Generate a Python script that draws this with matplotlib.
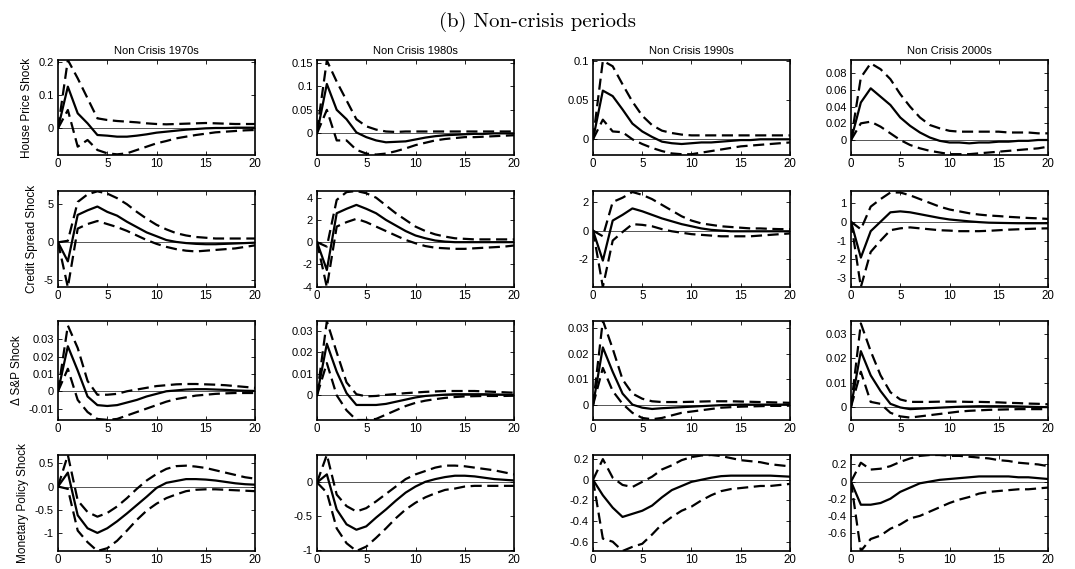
import matplotlib
matplotlib.use("Agg")
import matplotlib.pyplot as plt
import numpy as np

horizon = list(range(21))
col_titles = ["Non Crisis 1970s", "Non Crisis 1980s", "Non Crisis 1990s", "Non Crisis 2000s"]
row_labels = ["House Price Shock", "Credit Spread Shock", "\u0394 S&P Shock", "Monetary Policy Shock"]

# ---- House price shock ----
hp70_mid = [0, 0.125, 0.045, 0.015, -0.02, -0.022, -0.025, -0.025, -0.022, -0.018, -0.013, -0.01, -0.007, -0.004, -0.002, 0, 0.001, 0.001, 0.002, 0.002, 0.002]
hp70_hi = [0, 0.205, 0.15, 0.09, 0.03, 0.025, 0.022, 0.02, 0.018, 0.015, 0.013, 0.012, 0.013, 0.014, 0.015, 0.016, 0.015, 0.014, 0.013, 0.013, 0.013]
hp70_lo = [0, 0.055, -0.055, -0.035, -0.065, -0.075, -0.078, -0.075, -0.065, -0.055, -0.045, -0.038, -0.03, -0.025, -0.02, -0.016, -0.012, -0.01, -0.008, -0.006, -0.005]
hp80_mid = [0, 0.105, 0.05, 0.03, 0.002, -0.008, -0.015, -0.019, -0.018, -0.017, -0.013, -0.009, -0.006, -0.004, -0.003, -0.002, -0.001, -0.001, 0, 0, 0]
hp80_hi = [0.005, 0.155, 0.11, 0.07, 0.03, 0.015, 0.008, 0.004, 0.003, 0.004, 0.004, 0.004, 0.004, 0.004, 0.004, 0.004, 0.004, 0.004, 0.004, 0.004, 0.004]
hp80_lo = [0, 0.05, -0.015, -0.015, -0.035, -0.043, -0.045, -0.043, -0.038, -0.032, -0.025, -0.02, -0.015, -0.012, -0.01, -0.008, -0.008, -0.007, -0.006, -0.005, -0.004]
hp90_mid = [0, 0.062, 0.055, 0.038, 0.02, 0.01, 0.003, -0.003, -0.005, -0.006, -0.005, -0.004, -0.004, -0.003, -0.002, -0.001, -0.001, 0, 0, 0, 0]
hp90_hi = [0, 0.1, 0.093, 0.07, 0.048, 0.03, 0.018, 0.011, 0.008, 0.006, 0.005, 0.005, 0.005, 0.005, 0.005, 0.005, 0.005, 0.005, 0.005, 0.005, 0.005]
hp90_lo = [0, 0.025, 0.01, 0.009, 0.0, -0.006, -0.011, -0.015, -0.018, -0.019, -0.019, -0.017, -0.015, -0.013, -0.011, -0.009, -0.008, -0.007, -0.006, -0.005, -0.004]
hp00_mid = [0, 0.045, 0.062, 0.052, 0.042, 0.027, 0.017, 0.009, 0.003, -0.001, -0.003, -0.003, -0.004, -0.003, -0.003, -0.002, -0.002, -0.001, -0.001, 0, 0]
hp00_hi = [0, 0.075, 0.092, 0.085, 0.073, 0.055, 0.04, 0.027, 0.018, 0.014, 0.011, 0.01, 0.01, 0.01, 0.01, 0.01, 0.009, 0.009, 0.009, 0.008, 0.008]
hp00_lo = [0, 0.02, 0.022, 0.016, 0.008, 0.0, -0.006, -0.01, -0.013, -0.015, -0.017, -0.017, -0.017, -0.016, -0.015, -0.014, -0.013, -0.012, -0.011, -0.01, -0.008]

# ---- Credit spread shock ----
cs70_mid = [0, -2.5, 3.6, 4.2, 4.7, 4.0, 3.5, 2.7, 2.0, 1.3, 0.8, 0.3, 0.05, -0.1, -0.2, -0.25, -0.25, -0.2, -0.15, -0.1, -0.05]
cs70_hi = [0, 0.2, 5.3, 6.3, 6.7, 6.4, 5.8, 5.0, 4.0, 3.1, 2.3, 1.7, 1.2, 0.9, 0.7, 0.6, 0.5, 0.5, 0.5, 0.5, 0.5]
cs70_lo = [0, -5.9, 1.8, 2.4, 2.8, 2.4, 2.0, 1.5, 0.9, 0.3, -0.2, -0.6, -0.9, -1.1, -1.2, -1.1, -1.0, -0.9, -0.8, -0.6, -0.4]
cs80_mid = [0, -2.5, 2.6, 3.0, 3.35, 3.0, 2.6, 2.0, 1.5, 1.0, 0.6, 0.35, 0.15, 0.05, 0, 0, 0, 0, 0, 0, 0]
cs80_hi = [0, -0.4, 3.8, 4.5, 4.6, 4.4, 4.0, 3.3, 2.6, 2.0, 1.4, 1.0, 0.7, 0.5, 0.35, 0.3, 0.25, 0.25, 0.25, 0.25, 0.25]
cs80_lo = [0, -4.05, 1.4, 1.8, 2.1, 1.8, 1.4, 1.0, 0.6, 0.2, -0.1, -0.35, -0.5, -0.55, -0.6, -0.6, -0.55, -0.5, -0.45, -0.4, -0.3]
cs90_mid = [0, -2.1, 0.7, 1.1, 1.55, 1.35, 1.1, 0.85, 0.65, 0.45, 0.3, 0.15, 0.05, 0, -0.05, -0.05, -0.05, -0.05, -0.05, -0.05, -0.05]
cs90_hi = [0, -0.4, 2.0, 2.3, 2.7, 2.5, 2.2, 1.8, 1.4, 1.0, 0.7, 0.5, 0.4, 0.3, 0.25, 0.2, 0.15, 0.15, 0.12, 0.1, 0.1]
cs90_lo = [0, -3.95, -0.7, -0.1, 0.45, 0.4, 0.3, 0.1, -0.05, -0.15, -0.25, -0.3, -0.35, -0.4, -0.4, -0.4, -0.4, -0.35, -0.3, -0.25, -0.2]
cs00_mid = [0, -1.9, -0.5, 0.0, 0.5, 0.55, 0.5, 0.4, 0.3, 0.2, 0.12, 0.07, 0.02, -0.02, -0.05, -0.06, -0.07, -0.08, -0.08, -0.08, -0.08]
cs00_hi = [0, -0.4, 0.8, 1.2, 1.55, 1.55, 1.4, 1.2, 1.0, 0.8, 0.65, 0.55, 0.45, 0.38, 0.33, 0.3, 0.26, 0.23, 0.2, 0.18, 0.15]
cs00_lo = [0, -3.46, -1.6, -1.0, -0.45, -0.35, -0.3, -0.35, -0.4, -0.45, -0.47, -0.5, -0.5, -0.5, -0.48, -0.45, -0.42, -0.4, -0.38, -0.36, -0.35]

# ---- Delta S&P shock ----
sp70_mid = [0, 0.026, 0.012, -0.003, -0.008, -0.0085, -0.008, -0.0065, -0.005, -0.003, -0.0015, 0, 0.0005, 0.001, 0.0012, 0.0012, 0.001, 0.0008, 0.0005, 0.0003, 0.0002]
sp70_hi = [0, 0.038, 0.025, 0.006, -0.002, -0.002, -0.0015, 0, 0.001, 0.002, 0.003, 0.0035, 0.004, 0.0042, 0.0042, 0.004, 0.0038, 0.0035, 0.003, 0.0025, 0.002]
sp70_lo = [0, 0.013, -0.005, -0.012, -0.016, -0.0165, -0.016, -0.014, -0.012, -0.01, -0.008, -0.006, -0.0045, -0.0035, -0.0025, -0.002, -0.0015, -0.0012, -0.001, -0.001, -0.001]
sp80_mid = [0, 0.024, 0.011, 0.001, -0.0045, -0.0045, -0.0045, -0.004, -0.003, -0.002, -0.001, -0.0003, 0, 0.0003, 0.0005, 0.0005, 0.0005, 0.0005, 0.0004, 0.0003, 0.0002]
sp80_hi = [0, 0.0345, 0.02, 0.006, 0.0005, -0.0005, -0.0003, 0.0002, 0.0006, 0.001, 0.0013, 0.0016, 0.0018, 0.002, 0.002, 0.002, 0.002, 0.0018, 0.0016, 0.0014, 0.0012]
sp80_lo = [0, 0.015, 0.0, -0.007, -0.0115, -0.0115, -0.011, -0.009, -0.007, -0.005, -0.0035, -0.0025, -0.0018, -0.0012, -0.0008, -0.0005, -0.0004, -0.0003, -0.0003, -0.0003, -0.0002]
sp90_mid = [0, 0.0225, 0.013, 0.0045, 0.0002, -0.001, -0.0015, -0.0012, -0.001, -0.0008, -0.0006, -0.0004, -0.0002, 0, 0.0001, 0.0002, 0.0002, 0.0002, 0.0002, 0.0002, 0.0002]
sp90_hi = [0, 0.033, 0.022, 0.01, 0.0045, 0.0025, 0.0015, 0.0012, 0.0012, 0.0012, 0.0013, 0.0014, 0.0015, 0.0015, 0.0015, 0.0014, 0.0013, 0.0012, 0.0011, 0.001, 0.0009]
sp90_lo = [0, 0.0145, 0.0055, 0.0005, -0.003, -0.005, -0.0055, -0.005, -0.004, -0.003, -0.0025, -0.002, -0.0015, -0.001, -0.0008, -0.0006, -0.0005, -0.0004, -0.0003, -0.0003, -0.0002]
sp00_mid = [0, 0.023, 0.013, 0.0065, 0.0012, -0.0003, -0.001, -0.0008, -0.0006, -0.0004, -0.0002, 0, 0.0001, 0.0002, 0.0002, 0.0002, 0.0002, 0.0001, 0, -0.0001, -0.0002]
sp00_hi = [0, 0.0345, 0.023, 0.013, 0.006, 0.003, 0.002, 0.002, 0.002, 0.0021, 0.0021, 0.0021, 0.002, 0.002, 0.0019, 0.0018, 0.0016, 0.0015, 0.0013, 0.0012, 0.001]
sp00_lo = [0, 0.0145, 0.002, 0.0012, -0.0025, -0.004, -0.0045, -0.004, -0.0035, -0.003, -0.0025, -0.002, -0.0017, -0.0015, -0.0013, -0.0012, -0.0011, -0.001, -0.001, -0.001, -0.001]

# ---- Monetary policy shock ----
mp70_mid = [0, 0.3, -0.62, -0.9, -1.0, -0.9, -0.75, -0.58, -0.4, -0.22, -0.03, 0.08, 0.12, 0.16, 0.16, 0.15, 0.13, 0.1, 0.07, 0.05, 0.04]
mp70_hi = [0, 0.68, -0.3, -0.55, -0.65, -0.57, -0.43, -0.25, -0.05, 0.13, 0.27, 0.38, 0.44, 0.45, 0.43, 0.4, 0.35, 0.3, 0.25, 0.2, 0.17]
mp70_lo = [0, -0.05, -0.95, -1.2, -1.39, -1.33, -1.17, -0.95, -0.72, -0.52, -0.37, -0.25, -0.17, -0.1, -0.07, -0.06, -0.06, -0.07, -0.08, -0.09, -0.1]
mp80_mid = [0, 0.12, -0.4, -0.62, -0.7, -0.65, -0.52, -0.4, -0.27, -0.15, -0.06, 0.01, 0.05, 0.08, 0.1, 0.1, 0.09, 0.07, 0.05, 0.04, 0.03]
mp80_hi = [0, 0.41, -0.18, -0.35, -0.43, -0.38, -0.28, -0.17, -0.06, 0.05, 0.12, 0.17, 0.22, 0.25, 0.25, 0.24, 0.22, 0.2, 0.18, 0.15, 0.12]
mp80_lo = [0, -0.15, -0.68, -0.9, -1.015, -0.95, -0.82, -0.68, -0.53, -0.4, -0.3, -0.22, -0.16, -0.11, -0.09, -0.06, -0.05, -0.05, -0.05, -0.05, -0.05]
mp90_mid = [0, -0.15, -0.27, -0.36, -0.33, -0.3, -0.25, -0.17, -0.1, -0.06, -0.02, 0, 0.02, 0.035, 0.04, 0.04, 0.04, 0.04, 0.04, 0.035, 0.03]
mp90_hi = [0, 0.2, 0.02, -0.05, -0.07, -0.02, 0.03, 0.1, 0.14, 0.19, 0.22, 0.235, 0.24, 0.23, 0.21, 0.19, 0.18, 0.17, 0.15, 0.14, 0.13]
mp90_lo = [0, -0.57, -0.6, -0.69, -0.65, -0.62, -0.53, -0.43, -0.36, -0.3, -0.26, -0.2, -0.15, -0.11, -0.09, -0.08, -0.07, -0.06, -0.06, -0.05, -0.04]
mp00_mid = [0, -0.27, -0.27, -0.25, -0.2, -0.12, -0.07, -0.02, 0.0, 0.02, 0.03, 0.04, 0.05, 0.06, 0.06, 0.06, 0.06, 0.05, 0.05, 0.04, 0.03]
mp00_hi = [0, 0.22, 0.14, 0.15, 0.18, 0.23, 0.27, 0.3, 0.31, 0.31, 0.3, 0.3, 0.29, 0.28, 0.27, 0.25, 0.24, 0.22, 0.21, 0.2, 0.18]
mp00_lo = [0, -0.81, -0.67, -0.63, -0.55, -0.5, -0.43, -0.4, -0.35, -0.3, -0.25, -0.21, -0.18, -0.14, -0.12, -0.11, -0.1, -0.09, -0.09, -0.08, -0.07]

panels = [
    [(hp70_mid, hp70_hi, hp70_lo), (hp80_mid, hp80_hi, hp80_lo), (hp90_mid, hp90_hi, hp90_lo), (hp00_mid, hp00_hi, hp00_lo)],
    [(cs70_mid, cs70_hi, cs70_lo), (cs80_mid, cs80_hi, cs80_lo), (cs90_mid, cs90_hi, cs90_lo), (cs00_mid, cs00_hi, cs00_lo)],
    [(sp70_mid, sp70_hi, sp70_lo), (sp80_mid, sp80_hi, sp80_lo), (sp90_mid, sp90_hi, sp90_lo), (sp00_mid, sp00_hi, sp00_lo)],
    [(mp70_mid, mp70_hi, mp70_lo), (mp80_mid, mp80_hi, mp80_lo), (mp90_mid, mp90_hi, mp90_lo), (mp00_mid, mp00_hi, mp00_lo)],
]

ylims = [
    [(-0.08, 0.205), (-0.046, 0.156), (-0.02, 0.101), (-0.018, 0.096)],
    [(-5.87, 6.74), (-4.03, 4.6), (-3.95, 2.77), (-3.46, 1.63)],
    [(-0.0166, 0.0406), (-0.0115, 0.0346), (-0.0058, 0.0328), (-0.0055, 0.0355)],
    [(-1.39, 0.68), (-1.015, 0.407), (-0.69, 0.24), (-0.81, 0.31)],
]
yticks = [
    [[0, 0.1, 0.2], [0, 0.05, 0.1, 0.15], [0, 0.05, 0.1], [0, 0.02, 0.04, 0.06, 0.08]],
    [[-5, 0, 5], [-4, -2, 0, 2, 4], [-2, 0, 2], [-3, -2, -1, 0, 1]],
    [[-0.01, 0, 0.01, 0.02, 0.03], [0, 0.01, 0.02, 0.03], [0, 0.01, 0.02, 0.03], [0, 0.01, 0.02, 0.03]],
    [[-1, -0.5, 0, 0.5], [-1, -0.5, 0], [-0.6, -0.4, -0.2, 0, 0.2], [-0.6, -0.4, -0.2, 0, 0.2]],
]
xticks = [0, 5, 10, 15, 20]

W, H = 1075, 569
fig = plt.figure(figsize=(W / 100, H / 100), dpi=100)
plt.rcParams['font.family'] = ['Liberation Sans', 'DejaVu Sans']

lefts = [58, 317, 593, 851]
width = 197
tops = [60, 191, 321, 455]
bottoms = [155, 287, 420, 551]

dash = (0, (5, 2.5))

for r in range(4):
    for c in range(4):
        ax = fig.add_axes([lefts[c] / W, 1 - bottoms[r] / H, width / W, (bottoms[r] - tops[r]) / H])
        mid, hi, lo = panels[r][c]
        ax.axhline(0, color='#555555', lw=0.7, zorder=1)
        ax.plot(horizon, hi, color='black', lw=1.6, ls=dash, zorder=2)
        ax.plot(horizon, lo, color='black', lw=1.6, ls=dash, zorder=2)
        ax.plot(horizon, mid, color='black', lw=1.6, zorder=3)
        ax.set_xlim(0, 20)
        ax.set_ylim(*ylims[r][c])
        ax.set_xticks(xticks)
        ax.set_xticklabels([str(x) for x in xticks])
        ax.set_yticks(yticks[r][c])
        ax.set_yticklabels(['%g' % v for v in yticks[r][c]])
        ax.tick_params(direction='in', length=3, width=0.6, top=True, right=True)
        ax.tick_params(axis='x', labelsize=8.3, pad=2)
        ax.tick_params(axis='y', labelsize=8, pad=3)
        for sp in ax.spines.values():
            sp.set_linewidth(1.2)
        if r == 0:
            ax.set_title(col_titles[c], fontsize=8, pad=4)
        if c == 0:
            ax.set_ylabel(row_labels[r], fontsize=8.5,
                          family=['Liberation Sans Narrow', 'Liberation Sans', 'DejaVu Sans'])

fig.text(0.5, 1 - 22 / H, "(b) Non-crisis periods", ha='center', va='center',
         fontsize=15, family=['cmr10', 'DejaVu Serif'])

fig.savefig('out.png', dpi=100)
